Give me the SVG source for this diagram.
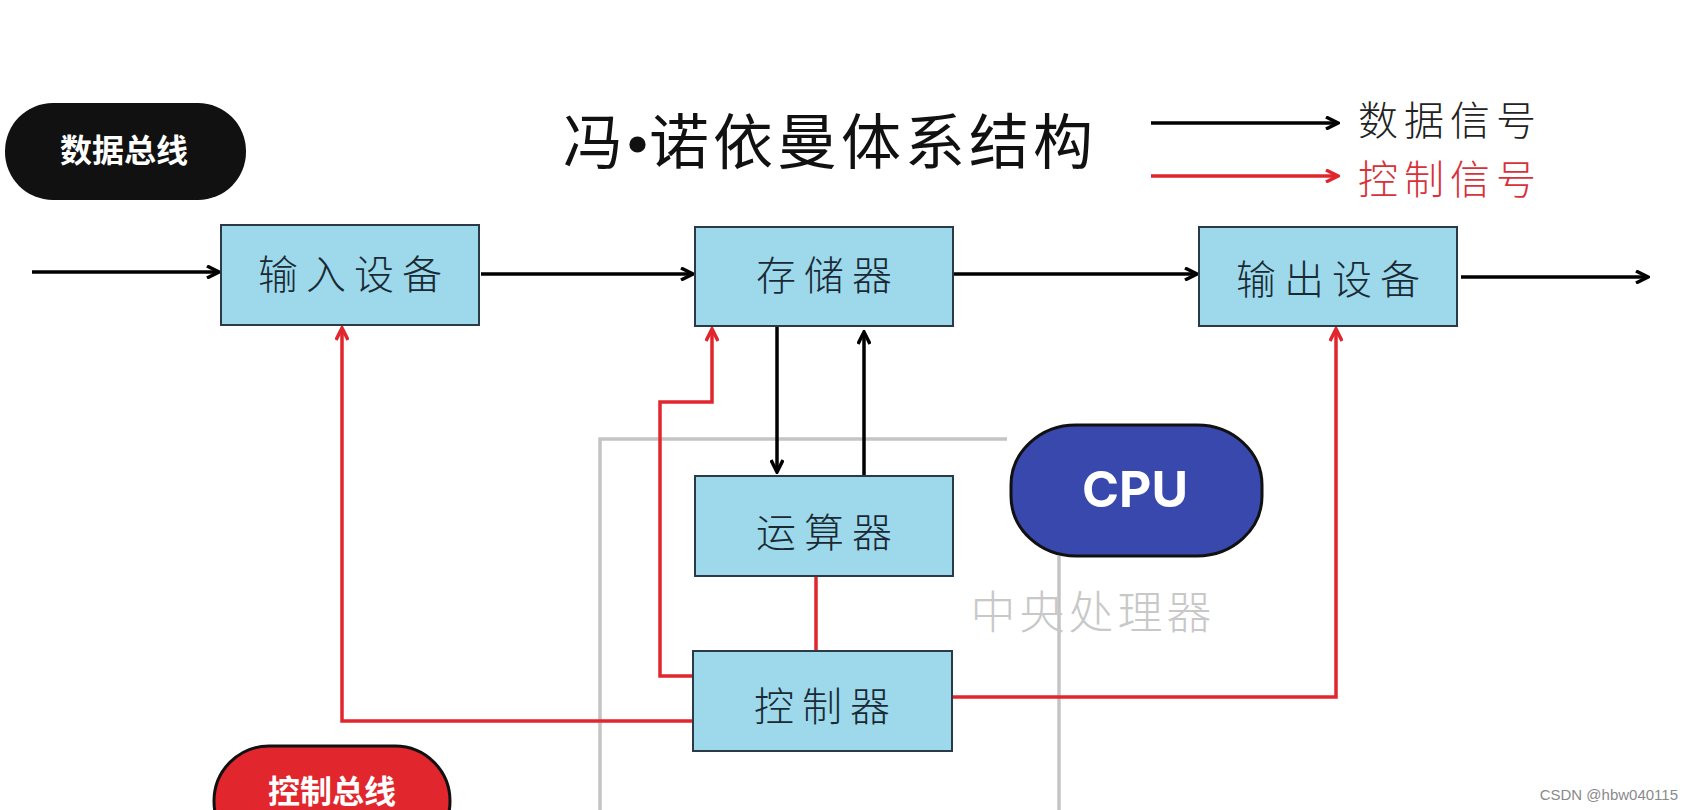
<svg xmlns="http://www.w3.org/2000/svg" width="1694" height="810" viewBox="0 0 1694 810">
<style>
.box{fill:#9dd9ea;stroke:#2b3a48;stroke-width:2}
.bt{font-family:"Noto Sans CJK SC","Noto Sans",sans-serif;font-weight:300;font-size:40px;fill:#1a2a35;text-anchor:middle;letter-spacing:8px}
.pilltxt{font-family:"Noto Sans CJK SC","Noto Sans",sans-serif;font-weight:700;font-size:32px;fill:#ffffff;text-anchor:middle}
.data{fill:none;stroke:#000;stroke-width:3.5;marker-end:url(#ab)}
.ctl{fill:none;stroke:#e1262d;stroke-width:3.5}
.ctla{marker-end:url(#ar)}
.grey{fill:none;stroke:#c4c4c4;stroke-width:3.5}
.leg{font-family:"Noto Sans CJK SC",sans-serif;font-weight:300;font-size:40px;text-anchor:middle;letter-spacing:6px}
</style>
<defs>
<marker id="ab" markerWidth="16" markerHeight="14" refX="14" refY="7" orient="auto" markerUnits="userSpaceOnUse">
<polyline points="2,1 14,7 2,13" fill="none" stroke="#000" stroke-width="3.5" stroke-linejoin="miter"/>
</marker>
<marker id="ar" markerWidth="16" markerHeight="14" refX="14" refY="7" orient="auto" markerUnits="userSpaceOnUse">
<polyline points="2,1 14,7 2,13" fill="none" stroke="#e1262d" stroke-width="3.5" stroke-linejoin="miter"/>
</marker>
</defs>
<rect width="1694" height="810" fill="#ffffff"/>

<g id="connectors">
<polyline class="grey" points="1007,439 600,439 600,810"/>
<line class="grey" x1="1059" y1="556" x2="1059" y2="810"/>
<line class="data" x1="32" y1="272" x2="219" y2="272"/>
<line class="data" x1="481" y1="274" x2="693" y2="274"/>
<line class="data" x1="953" y1="274" x2="1197" y2="274"/>
<line class="data" x1="1461" y1="277" x2="1648" y2="277"/>
<line class="data" x1="777" y1="327" x2="777" y2="472"/>
<line class="data" x1="864" y1="476" x2="864" y2="332"/>
<polyline class="ctl ctla" points="693,721 342,721 342,328"/>
<polyline class="ctl ctla" points="693,676 660,676 660,402 712,402 712,329"/>
<line class="ctl" x1="816" y1="577" x2="816" y2="651" stroke-width="3"/>
<polyline class="ctl ctla" points="952,697 1336,697 1336,329"/>
<line class="data" x1="1151" y1="123" x2="1338" y2="123"/>
<line class="ctl ctla" x1="1151" y1="176" x2="1338" y2="176"/>
</g>

<g id="title">
<text x="830" y="164" font-family="Noto Sans CJK SC,sans-serif" font-weight="400" font-size="60" fill="#111" text-anchor="middle" letter-spacing="4">冯<tspan font-family="Liberation Serif,serif" font-weight="700" letter-spacing="1">•</tspan>诺依曼体系结构</text>
</g>

<g id="legend">
<text class="leg" x="1450" y="135" fill="#222">数据信号</text>
<text class="leg" x="1450" y="194" fill="#d8313a">控制信号</text>
</g>

<g id="data-bus">
<rect x="5" y="103" width="241" height="97" rx="48" fill="#111111"/>
<text class="pilltxt" x="124" y="162">数据总线</text>
</g>

<g id="input">
<rect class="box" x="221" y="225" width="258" height="100"/>
<text class="bt" x="354" y="289">输入设备</text>
</g>

<g id="memory">
<rect class="box" x="695" y="227" width="258" height="99"/>
<text class="bt" x="828" y="290">存储器</text>
</g>

<g id="output">
<rect class="box" x="1199" y="227" width="258" height="99"/>
<text class="bt" x="1332" y="294">输出设备</text>
</g>

<g id="alu">
<rect class="box" x="695" y="476" width="258" height="100"/>
<text class="bt" x="828" y="547">运算器</text>
</g>

<g id="controller">
<rect class="box" x="693" y="651" width="259" height="100"/>
<text class="bt" x="826" y="721">控制器</text>
</g>

<g id="cpu">
<rect x="1011" y="425" width="251" height="131" rx="65" ry="60" fill="#3848ac" stroke="#111" stroke-width="3"/>
<text x="1135" y="507" font-family="Inter,'Noto Sans',sans-serif" font-weight="700" font-size="50" fill="#ffffff" text-anchor="middle">CPU</text>
<text x="1093" y="629" font-family="Noto Sans CJK SC,sans-serif" font-weight="300" font-size="45" fill="#c8c8c8" text-anchor="middle" letter-spacing="4">中央处理器</text>
</g>

<g id="control-bus">
<rect x="214" y="746" width="236" height="110" rx="55" fill="#e1262d" stroke="#111" stroke-width="3"/>
<text class="pilltxt" x="332" y="803" font-size="30">控制总线</text>
</g>

<text x="1678" y="800" font-family="Liberation Sans,sans-serif" font-size="15" fill="#8a8a8a" text-anchor="end">CSDN @hbw040115</text>
</svg>
